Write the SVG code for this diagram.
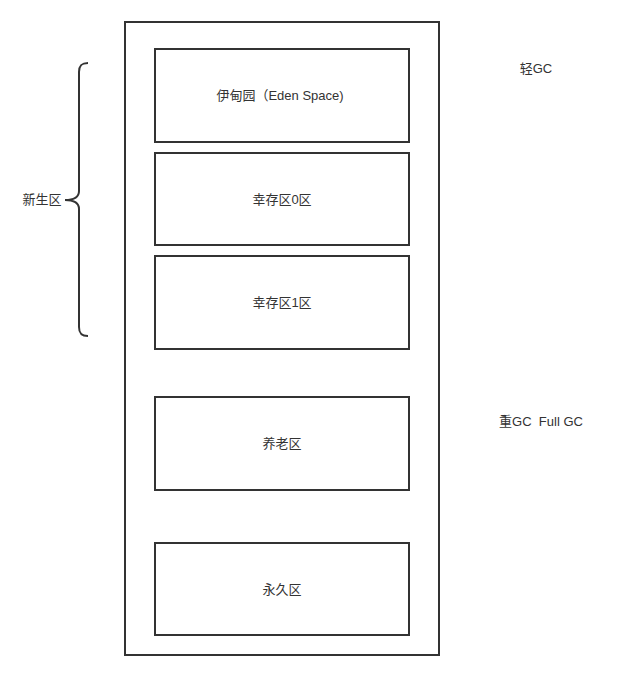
<svg xmlns="http://www.w3.org/2000/svg" width="623" height="696" viewBox="0 0 623 696">
<style>
.box{fill:#fff;stroke:#333;stroke-width:2}
.t{font-family:"Liberation Sans","Noto Sans CJK SC",sans-serif;font-size:13px;fill:#333;text-anchor:middle;dominant-baseline:central;white-space:pre}
</style>
<rect width="623" height="696" fill="#fff"/>
<g id="heap"><rect class="box" x="125" y="22" width="314" height="633"/></g>
<g id="eden"><rect class="box" x="155" y="49" width="254" height="93"/><text class="t" x="280" y="95">伊甸园（Eden Space)</text></g>
<g id="s0"><rect class="box" x="155" y="153" width="254" height="92"/><text class="t" x="282" y="199">幸存区0区</text></g>
<g id="s1"><rect class="box" x="155" y="256" width="254" height="93"/><text class="t" x="282" y="302">幸存区1区</text></g>
<g id="old"><rect class="box" x="155" y="397" width="254" height="93"/><text class="t" x="282" y="443">养老区</text></g>
<g id="perm"><rect class="box" x="155" y="543" width="254" height="92"/><text class="t" x="282" y="589">永久区</text></g>
<g id="brace"><path d="M88,63 C81,63 79,66 79,72 L79,191 C79,197 75,200 65,200 C75,200 79,203 79,209 L79,327 C79,333 81,336 88,336" fill="none" stroke="#333" stroke-width="2"/></g>
<g id="young"><text class="t" x="42" y="199">新生区</text></g>
<g id="minor"><text class="t" x="536" y="68">轻GC</text></g>
<g id="major"><text class="t" x="541" y="421" xml:space="preserve">重GC  Full GC</text></g>
<g id="connectors"></g>
</svg>
